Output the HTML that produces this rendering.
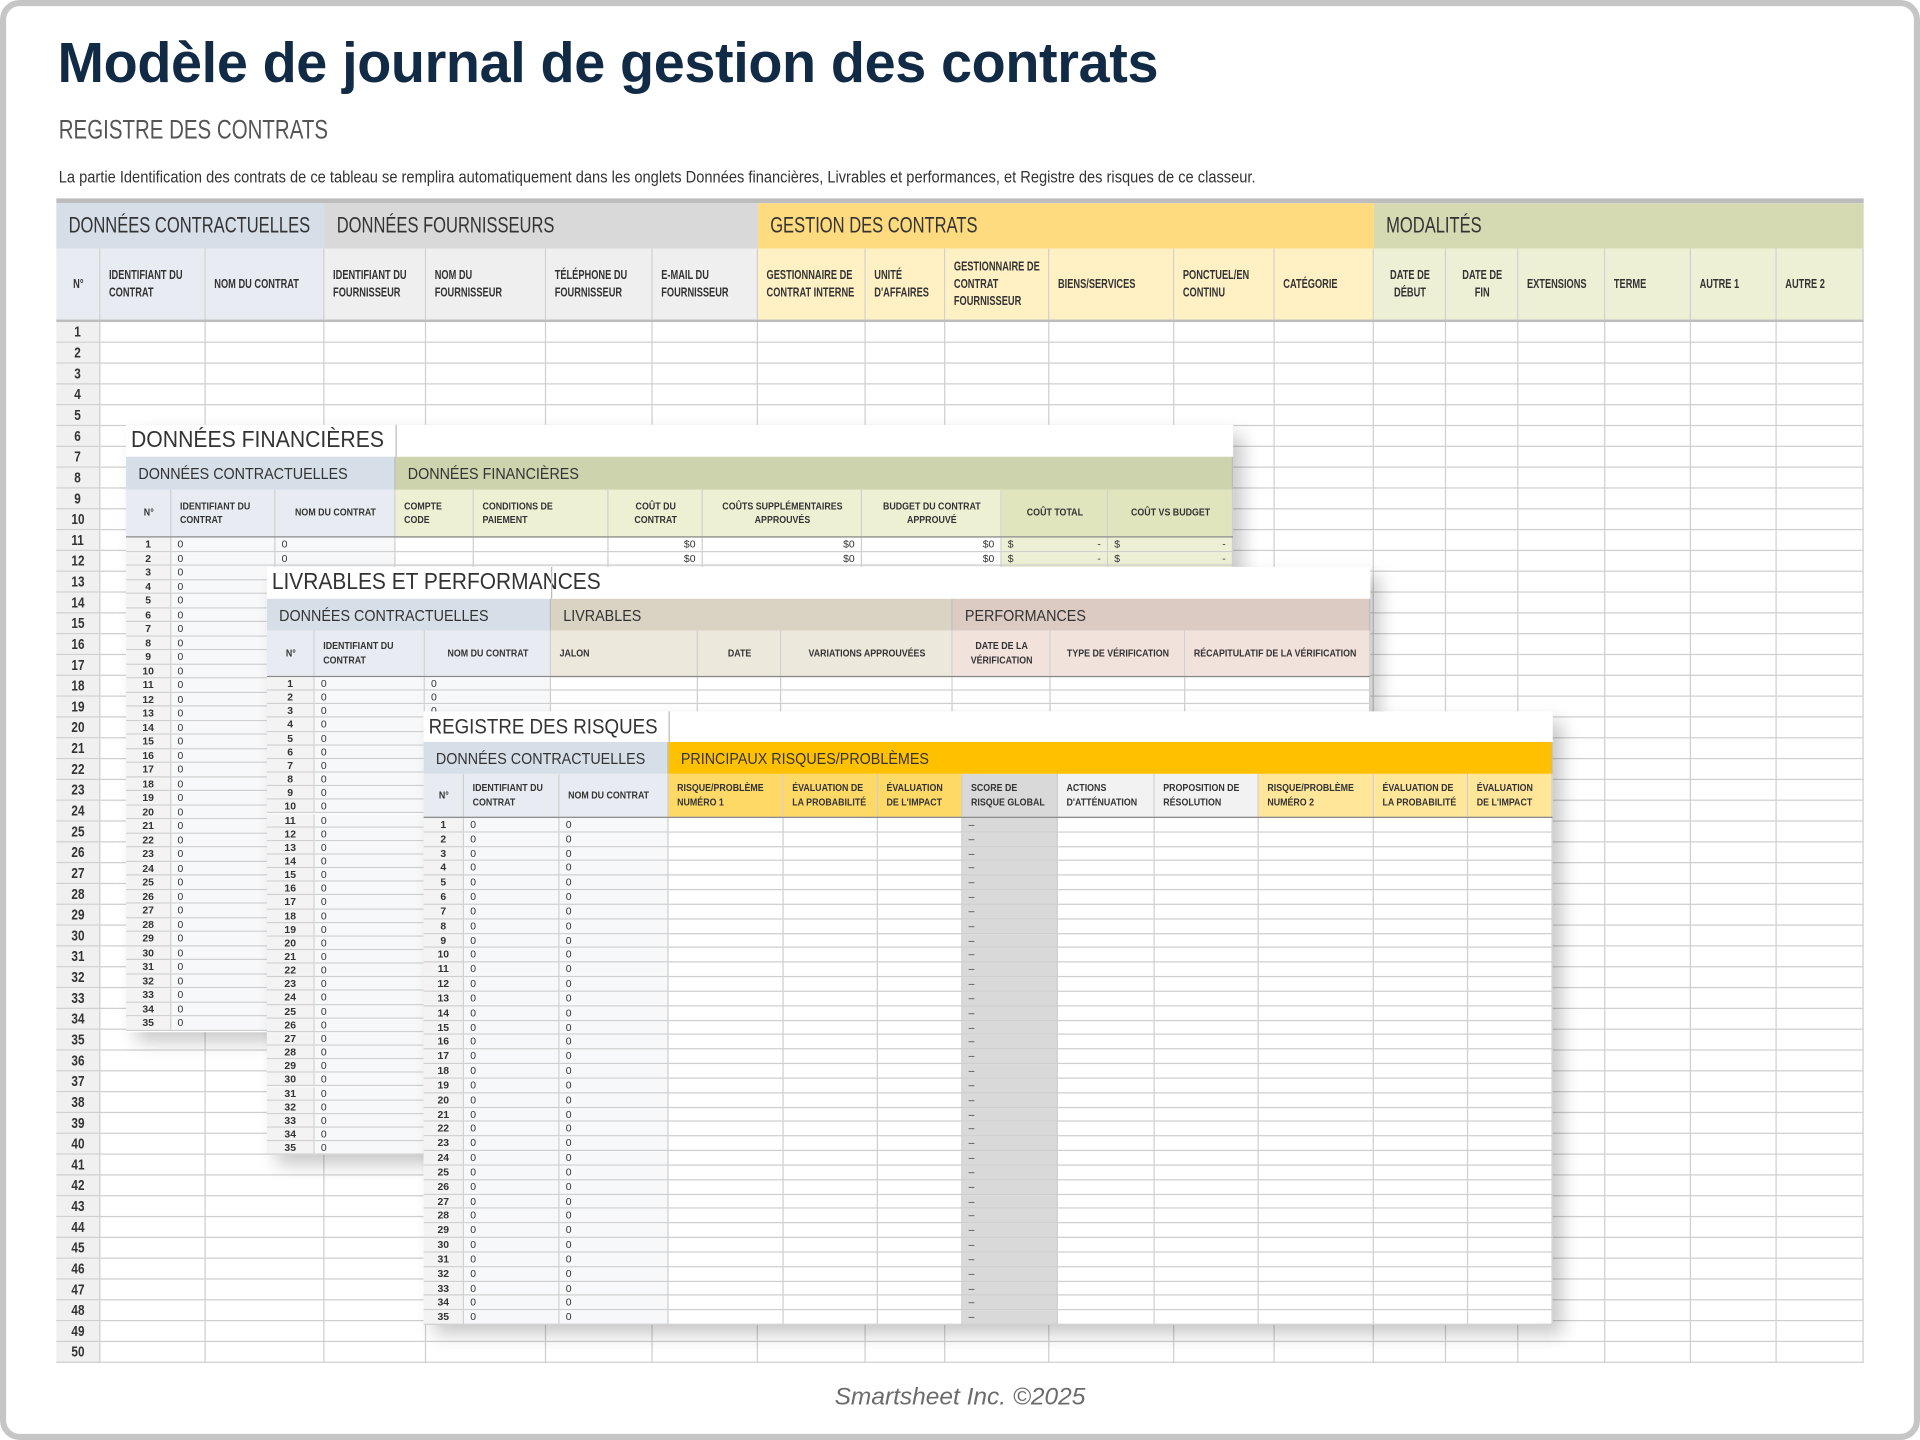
<!DOCTYPE html>
<html><head><meta charset="utf-8">
<style>
html,body{margin:0;padding:0;width:1920px;height:1440px;overflow:hidden;background:#fff}
#s{position:absolute;left:0;top:0;width:1568px;height:1176px;transform:scale(1.22449);transform-origin:0 0;font-family:"Liberation Sans",sans-serif}
.a{position:absolute;box-sizing:border-box;overflow:hidden;white-space:nowrap}
.frame{position:absolute;left:0;top:0;width:1568px;height:1176px;box-sizing:border-box;border:5px solid #c6c6c6;border-radius:16px}
</style></head><body>
<div id="s">
<div class="frame"></div>
<div class="a" style="left:47px;top:24px;font:bold 46px 'Liberation Sans',sans-serif;color:#112a45;letter-spacing:-0.3px;transform:scaleX(0.99);transform-origin:0 0;overflow:visible">Modèle de journal de gestion des contrats</div>
<div class="a" style="left:48px;top:93px;font-size:22px;color:#555;transform:scaleX(0.76);transform-origin:0 0;overflow:visible">REGISTRE DES CONTRATS</div>
<div class="a" style="left:48px;top:137px;font-size:13.5px;color:#333;transform:scaleX(0.886);transform-origin:0 0;overflow:visible">La partie Identification des contrats de ce tableau se remplira automatiquement dans les onglets Données financières, Livrables et performances, et Registre des risques de ce classeur.</div>
<div class="a" style="left:0;top:1130px;width:1568px;text-align:center;font:italic 20px 'Liberation Sans',sans-serif;color:#6b6b6b">Smartsheet Inc. ©2025</div>
</div>
<script>
var S=document.getElementById('s');
function R(x,y,w,h,css,t){var d=document.createElement('div');d.className='a';d.style.cssText='left:'+x+'px;top:'+y+'px;width:'+w+'px;height:'+h+'px;'+(css||'');if(t!==undefined)d.innerHTML=t;S.appendChild(d);return d;}
var G='#cfcfcf';
function hdr(x,y,w,h,bg,t,fs,align,k){k=k||0.78;var iw=(w-14)/k;
 R(x,y,w,h,'background:'+bg+';border-right:1px solid '+G+';border-bottom:1px solid '+G+';display:flex;align-items:center;padding:0 7px;font-weight:bold;color:#333;font-size:'+fs+'px',
 '<div style="flex-shrink:0;width:'+iw+'px;white-space:normal;line-height:1.35;transform:scaleX('+k+');transform-origin:'+(align=='c'?'0 50%':'0 50%')+';'+(align=='c'?'text-align:center;':'')+'">'+t+'</div>');}
function grp(x,y,w,h,bg,t,fs,k){R(x,y,w,h,'background:'+bg+';display:flex;align-items:center;padding-left:10px;color:#333;font-size:'+fs+'px','<span style="display:inline-block;transform:scaleX('+(k||1)+');transform-origin:0 50%">'+t+'</span>');}
// ===== main sheet =====
R(46,162,1476,4,'background:#bdbdbd');
grp(46,166,219,37,'#d6dee7','DONNÉES CONTRACTUELLES',18,0.75);
grp(265,166,354,37,'#d9d9d9','DONNÉES FOURNISSEURS',18,0.75);
grp(619,166,503,37,'#ffdb7f','GESTION DES CONTRATS',18,0.75);
grp(1122,166,400,37,'#d5dab3','MODALITÉS',18,0.75);
var mc=[46,82,168,265,348,446,533,619,707,772,857,959,1041,1122,1181,1240,1311,1381,1451,1522];
var mh=['N°','IDENTIFIANT DU CONTRAT','NOM DU CONTRAT','IDENTIFIANT DU FOURNISSEUR','NOM DU FOURNISSEUR','TÉLÉPHONE DU FOURNISSEUR','E-MAIL DU FOURNISSEUR','GESTIONNAIRE DE CONTRAT INTERNE',"UNITÉ D'AFFAIRES",'GESTIONNAIRE DE CONTRAT FOURNISSEUR','BIENS/SERVICES','PONCTUEL/EN CONTINU','CATÉGORIE','DATE DE DÉBUT','DATE DE FIN','EXTENSIONS','TERME','AUTRE 1','AUTRE 2'];
var mcen={0:1,13:1,14:1};
for(var i=0;i<19;i++){var bg=i<3?'#e8ecf2':i<7?'#efefef':i<13?'#fff1c4':'#eef0d6';hdr(mc[i],203,mc[i+1]-mc[i],59,bg,mh[i],10.5,mcen[i]?'c':'',0.72);}
R(46,261,1476,2,'background:#bdbdbd');
for(var r=0;r<50;r++){var y=263+r*17;for(var i=0;i<19;i++){R(mc[i],y,mc[i+1]-mc[i],17,'border-right:1px solid '+G+';border-bottom:1px solid '+G+';'+(i==0?'background:#f0f0f0;font-weight:bold;font-size:12px;text-align:center;line-height:16px;color:#333;':''),i==0?'<span style="display:inline-block;transform:scaleX(0.8)">'+(r+1)+'</span>':'');}}
// ===== overlay builder =====
function sheet(o){
 R(o.x,o.y,o.w,o.h,'background:#fff;box-shadow:8px 8px 14px rgba(0,0,0,0.22)');
 R(o.x,o.y,o.w,o.th,'background:#fff');
 R(o.x+4,o.y,500,o.th,'font-size:'+o.tfs+'px;color:#333;line-height:'+o.th+'px','<span style="display:inline-block;transform:scaleX('+o.tk+');transform-origin:0 50%">'+o.title+'</span>');
 if(o.tl)R(o.tl,o.y,1,o.th,'background:#bbb');
 var y=o.y+o.th;
 for(var g=0;g<o.groups.length;g++){var gg=o.groups[g];grp(gg[0],y,gg[1]-gg[0],o.gh,gg[2],gg[3],13,0.9);R(gg[0],y,gg[1]-gg[0],o.gh,'border-right:1px solid #bbb;background:transparent');}
 y+=o.gh;
 var c=o.cols;
 for(var i=0;i<c.length-1;i++){hdr(c[i],y,c[i+1]-c[i],o.hh,o.hbg[i],o.hd[i],8.5,(o.hc&&o.hc[i])?'c':'',0.85);}
 y+=o.hh;
 R(o.x,y-1,o.w,1,'background:#888');
 for(var r=0;r<35;r++){var yy=y+r*o.rh;for(var i=0;i<c.length-1;i++){var t='',st='border-right:1px solid '+G+';border-bottom:1px solid '+G+';font-size:8.5px;line-height:'+(o.rh-1)+'px;color:#333;padding:0 5px;';
  if(i==0){t=r+1;st+='font-weight:bold;text-align:center;background:#f3f3f3;';}else if(i<3){t='0';st+='background:#f7f8fa;';}else if(o.cell){var q=o.cell(i,r);t=q[0];st+=q[1];}
  R(c[i],yy,c[i+1]-c[i],o.rh,st,t);}}
}
sheet({x:103,y:347,w:904,h:496,th:26,tfs:19,tk:0.91,title:'DONNÉES FINANCIÈRES',tl:323,gh:27,hh:39,rh:11.5,
 groups:[[103,323,'#d6dee7','DONNÉES CONTRACTUELLES'],[323,1007,'#cdd3ac','DONNÉES FINANCIÈRES']],
 cols:[103,140,225,323,387,497,574,704,818,905,1007],
 hd:['N°','IDENTIFIANT DU CONTRAT','NOM DU CONTRAT','COMPTE CODE','CONDITIONS DE PAIEMENT','COÛT DU CONTRAT','COÛTS SUPPLÉMENTAIRES APPROUVÉS','BUDGET DU CONTRAT APPROUVÉ','COÛT TOTAL','COÛT VS BUDGET'],
 hc:[1,0,1,0,0,1,1,1,1,1],
 hbg:['#e8ecf2','#e8ecf2','#e8ecf2','#eef0d4','#eef0d4','#eef0d4','#eef0d4','#eef0d4','#e0e5bd','#e0e5bd'],
 cell:function(i,r){if(i>=5&&i<=7)return['$0','text-align:right;'];if(i>=8)return['$<span style="float:right">-</span>','background:#eef0d6;'];return['',''];}});
sheet({x:218,y:463,w:901,h:480,th:26,tfs:19,tk:0.9,title:'LIVRABLES ET PERFORMANCES',tl:450,gh:26,hh:38,rh:11.15,
 groups:[[218,450,'#d6dee7','DONNÉES CONTRACTUELLES'],[450,778,'#d9d3c4','LIVRABLES'],[778,1119,'#dccbc2','PERFORMANCES']],
 cols:[218,257,347,450,570,638,778,858,968,1119],
 hd:['N°','IDENTIFIANT DU CONTRAT','NOM DU CONTRAT','JALON','DATE','VARIATIONS APPROUVÉES','DATE DE LA VÉRIFICATION','TYPE DE VÉRIFICATION','RÉCAPITULATIF DE LA VÉRIFICATION'],
 hc:[1,0,1,0,1,1,1,1,0],
 hbg:['#e8ecf2','#e8ecf2','#e8ecf2','#ece8dc','#ece8dc','#ece8dc','#f1e2dc','#f1e2dc','#f1e2dc'],
 cell:function(i,r){return['',''];}});
sheet({x:346,y:581,w:922,h:501,th:25,tfs:17,tk:0.9,title:'REGISTRE DES RISQUES',tl:546,gh:26,hh:36,rh:11.83,
 groups:[[346,546,'#d6dee7','DONNÉES CONTRACTUELLES'],[546,1268,'#ffc000','PRINCIPAUX RISQUES/PROBLÈMES']],
 cols:[346,379,457,546,640,717,786,864,943,1028,1122,1199,1268],
 hd:['N°','IDENTIFIANT DU CONTRAT','NOM DU CONTRAT','RISQUE/PROBLÈME NUMÉRO 1','ÉVALUATION DE LA PROBABILITÉ',"ÉVALUATION DE L'IMPACT",'SCORE DE RISQUE GLOBAL',"ACTIONS D'ATTÉNUATION",'PROPOSITION DE RÉSOLUTION','RISQUE/PROBLÈME NUMÉRO 2','ÉVALUATION DE LA PROBABILITÉ',"ÉVALUATION DE L'IMPACT"],
 hc:[1,0,0,0,0,0,0,0,0,0,0,0],
 hbg:['#e8ecf2','#e8ecf2','#e8ecf2','#ffd966','#ffd966','#ffd966','#d9d9d9','#f2f2f2','#f2f2f2','#ffe699','#ffe699','#ffe699'],
 cell:function(i,r){if(i==6)return['–','background:#d9d9d9;'];return['',''];}});
</script>
</body></html>
